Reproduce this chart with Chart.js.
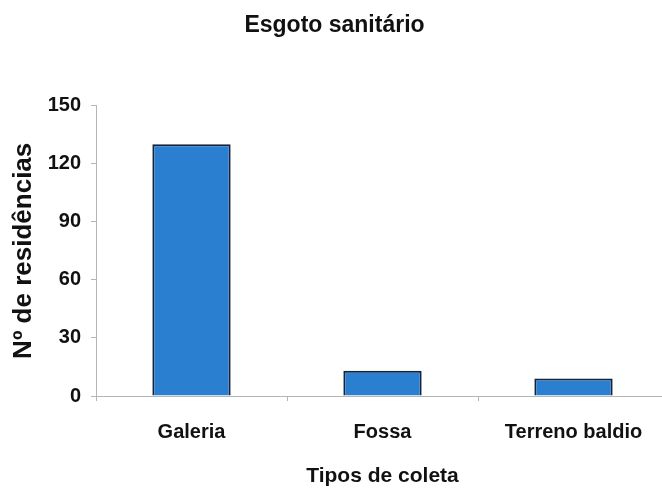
<!DOCTYPE html>
<html>
<head>
<meta charset="utf-8">
<script src="https://cdn.jsdelivr.net/npm/chart.js@4"></script>
<style>
    html, body { margin: 0; padding: 0; overflow: hidden; background: #fff; }
    #wrap { width: 680px; height: 489px; }
</style>
</head>
<body>
<div id="wrap"><canvas id="esgotoChart" width="680" height="489"></canvas></div>
<script>
// Data
const categorias = ['Galeria', 'Fossa', 'Terreno baldio'];
const residencias = [130, 13, 9];
const yTicks = [0, 30, 60, 90, 120, 150];

const FONT = '"Liberation Sans", Arial, sans-serif';
const TEXT_COLOR = '#111111';

const ctx = document.getElementById('esgotoChart').getContext('2d');
new Chart(ctx, {
    type: 'bar',
    data: {
        labels: categorias,
        datasets: [{
            label: 'Nº de residências',
            data: residencias,
            backgroundColor: '#2a7fd0',
            borderColor: '#14233a',
            borderWidth: 2,
            categoryPercentage: 1,
            barPercentage: 0.41
        }]
    },
    options: {
        responsive: false,
        animation: false,
        devicePixelRatio: 1,
        layout: {
            padding: { left: 0, right: 11, top: 0, bottom: 0 }
        },
        plugins: {
            legend: { display: false },
            tooltip: { enabled: false },
            title: {
                display: true,
                text: 'Esgoto sanitário',
                color: TEXT_COLOR,
                font: { family: FONT, size: 23, weight: 'bold' },
                padding: { top: 12, bottom: 66 }
            }
        },
        scales: {
            y: {
                min: 0,
                max: 150,
                afterFit: (scale) => { scale.width = 96; },
                afterBuildTicks: (scale) => {
                    scale.ticks = yTicks.map(v => ({ value: v }));
                },
                ticks: {
                    color: TEXT_COLOR,
                    padding: 10,
                    font: { family: FONT, size: 20, weight: 'bold' }
                },
                grid: {
                    display: true,
                    drawOnChartArea: false,
                    drawTicks: true,
                    tickLength: 5,
                    color: '#b5b5b5'
                },
                border: { display: true, color: '#b5b5b5', width: 1 },
                title: {
                    display: true,
                    text: 'Nº de residências',
                    color: TEXT_COLOR,
                    font: { family: FONT, size: 26, weight: 'bold' },
                    padding: { top: 8, bottom: 0 }
                }
            },
            x: {
                afterFit: (scale) => { scale.height = 93; },
                ticks: {
                    color: TEXT_COLOR,
                    padding: 19,
                    font: { family: FONT, size: 20, weight: 'bold' }
                },
                grid: {
                    display: true,
                    offset: true,
                    drawOnChartArea: false,
                    drawTicks: true,
                    tickLength: 5,
                    color: '#b5b5b5'
                },
                border: { display: true, color: '#b5b5b5', width: 1 },
                title: {
                    display: true,
                    text: 'Tipos de coleta',
                    color: TEXT_COLOR,
                    font: { family: FONT, size: 21, weight: 'bold' },
                    padding: { top: 0, bottom: 0 }
                }
            }
        }
    }
});
</script>
</body>
</html>
